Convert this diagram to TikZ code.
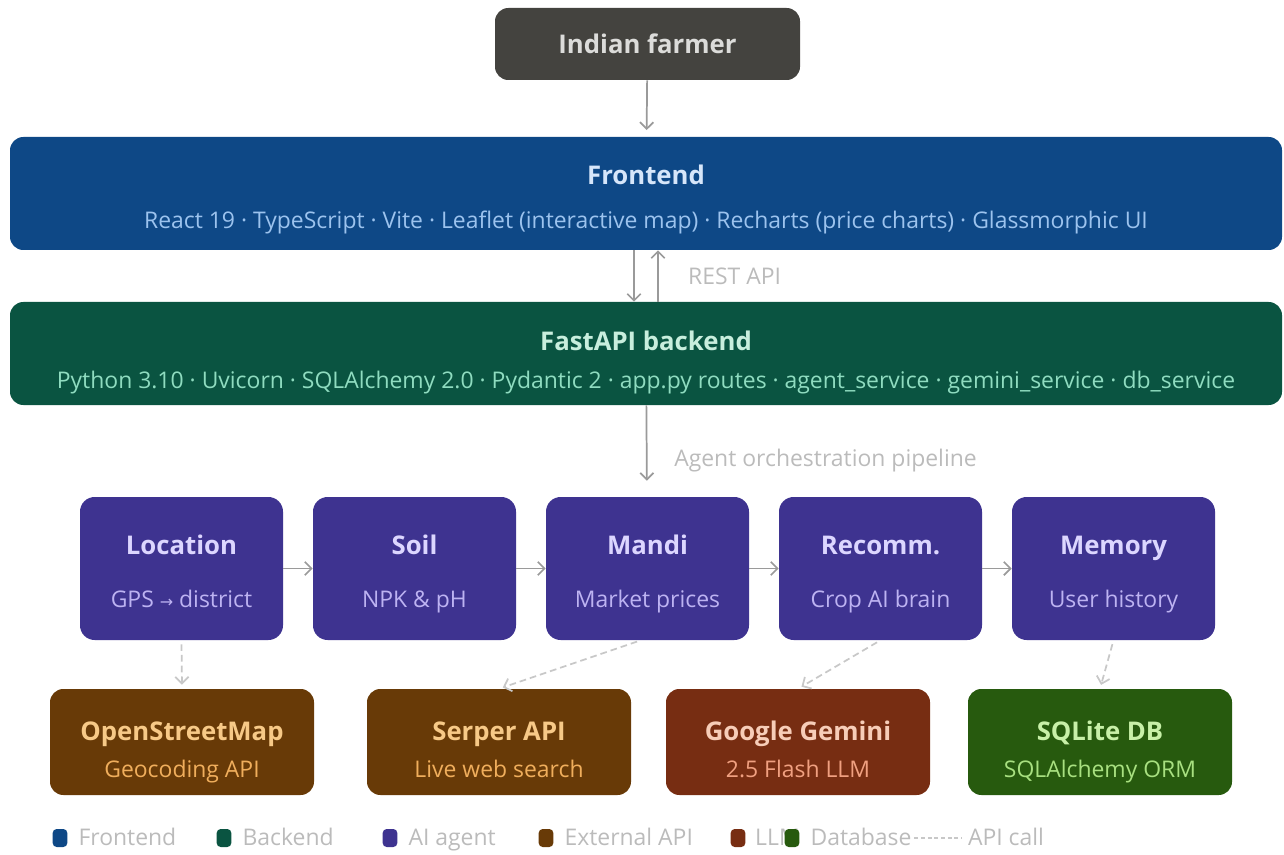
\documentclass[tikz,border=0pt]{standalone}
\usepackage{fontspec}
\setmainfont{Open Sans}
\newfontfamily\arrowfont{DejaVu Sans}
\usepackage{xcolor}
\usetikzlibrary{positioning,arrows.meta}

\definecolor{farmerbg}{HTML}{44433F}
\definecolor{farmertx}{HTML}{DCDCDA}
\definecolor{febg}{HTML}{0E4886}
\definecolor{fettl}{HTML}{D6E6FA}
\definecolor{fesub}{HTML}{9CC3EE}
\definecolor{bebg}{HTML}{0A5441}
\definecolor{bettl}{HTML}{C8EEDD}
\definecolor{besub}{HTML}{8FDCC0}
\definecolor{agentbg}{HTML}{3E3390}
\definecolor{agentttl}{HTML}{DCD6FF}
\definecolor{agentsub}{HTML}{BDB3F2}
\definecolor{extbg}{HTML}{683A07}
\definecolor{extttl}{HTML}{F7C987}
\definecolor{extsub}{HTML}{F0AE5C}
\definecolor{llmbg}{HTML}{772D12}
\definecolor{llmttl}{HTML}{F7CDB8}
\definecolor{llmsub}{HTML}{F0A080}
\definecolor{dbbg}{HTML}{275A0E}
\definecolor{dbttl}{HTML}{C8F0A8}
\definecolor{dbsub}{HTML}{A8E080}
\definecolor{arrowgray}{HTML}{9A9A9A}
\definecolor{callgray}{HTML}{C8C8C8}
\definecolor{lblgray}{HTML}{BBBBBB}

% title line with a strut on top, subtitle line with a strut below
\newcommand{\titleline}[3]{\rule{0pt}{#1}{\color{#2}\fontsize{19.3}{24}\selectfont\bfseries #3}}
\newcommand{\subline}[2]{{\color{#1}#2}\rule[-6pt]{0pt}{6pt}}

\begin{document}
\begin{tikzpicture}[x=0.75pt,y=-0.75pt,
    box/.style={rounded corners=10pt,align=center,inner sep=0pt,
      font=\fontsize{17.2}{24}\selectfont},
    layer/.style={box,minimum width=954pt},
    agent/.style={box,fill=agentbg,minimum width=152.25pt,minimum height=107.25pt,
      rounded corners=11pt},
    ext/.style={box,minimum width=198pt,minimum height=79.5pt},
    flow/.style={draw=arrowgray,line width=1.3pt,-{Straight Barb[length=5pt,width=10pt]}},
    call/.style={flow,draw=callgray,dash pattern=on 5pt off 3pt},
    lbl/.style={text=lblgray,font=\fontsize{17.2}{24}\selectfont,inner sep=0pt},
    legsq/.style={rounded corners=3pt,minimum width=11pt,minimum height=13.5pt,inner sep=0pt},
    legtxt/.style={text=lblgray,font=\fontsize{17.2}{24}\selectfont,inner sep=0pt,
      text height=14pt,text depth=3pt}
  ]
  \useasboundingbox (0,0) rectangle (1284,855);

  % user
  \node [box,fill=farmerbg,minimum width=228.75pt,minimum height=54pt] (farmer) at (647.5,44)
    {\color{farmertx}\fontsize{19.3}{24}\selectfont\bfseries Indian farmer};

  % frontend / backend layers
  \node [layer,fill=febg,minimum height=84.75pt] (fe) at (646,193.5) {%
    \titleline{25pt}{fettl}{Frontend}\\[9pt]
    \subline{fesub}{React 19 · TypeScript · Vite · Leaflet (interactive map) · Recharts (price charts) · Glassmorphic UI}
  };
  \node [layer,fill=bebg,minimum height=77.25pt] (be) at (646,353.5) {%
    \titleline{29.5pt}{bettl}{FastAPI backend}\\[4.5pt]
    \subline{besub}{Python 3.10 · Uvicorn · SQLAlchemy 2.0 · Pydantic 2 · app.py routes · agent\_service · gemini\_service · db\_service}
  };

  % agents
  \node [agent] (loc) at (181.5,568.5) {%
    \titleline{24.35pt}{agentttl}{Location}\\[15.75pt]
    \subline{agentsub}{GPS {\arrowfont\fontsize{12}{24}\selectfont →} district}
  };
  \node [agent] (soil) at (414.5,568.5) {%
    \titleline{24.35pt}{agentttl}{Soil}\\[15.75pt]
    \subline{agentsub}{NPK \& pH}
  };
  \node [agent] (mandi) at (647.5,568.5) {%
    \titleline{24.35pt}{agentttl}{Mandi}\\[15.75pt]
    \subline{agentsub}{Market prices}
  };
  \node [agent] (recomm) at (880.5,568.5) {%
    \titleline{24.35pt}{agentttl}{Recomm.}\\[15.75pt]
    \subline{agentsub}{Crop AI brain}
  };
  \node [agent] (memory) at (1113.5,568.5) {%
    \titleline{24.35pt}{agentttl}{Memory}\\[15.75pt]
    \subline{agentsub}{User history}
  };

  % external services
  \node [ext,fill=extbg] (osm) at (182,742) {%
    \titleline{31.15pt}{extttl}{OpenStreetMap}\\[3.75pt]
    \subline{extsub}{Geocoding API}
  };
  \node [ext,fill=extbg] (serper) at (499,742) {%
    \titleline{31.15pt}{extttl}{Serper API}\\[3.75pt]
    \subline{extsub}{Live web search}
  };
  \node [ext,fill=llmbg] (gemini) at (798,742) {%
    \titleline{31.15pt}{llmttl}{Google Gemini}\\[3.75pt]
    \subline{llmsub}{2.5 Flash LLM}
  };
  \node [ext,fill=dbbg] (sqlite) at (1100,742) {%
    \titleline{31.15pt}{dbttl}{SQLite DB}\\[3.75pt]
    \subline{dbsub}{SQLAlchemy ORM}
  };

  % connectors
  \draw [flow,shorten >=5pt] (farmer) -- (fe);
  \draw [flow] ([xshift=-9pt]fe.south) -- ([xshift=-9pt]be.north);
  \draw [flow] ([xshift=9pt]be.north) -- node [lbl,right=22pt] {REST API} ([xshift=9pt]fe.south);
  \draw [flow,shorten >=12pt] (be) -- node [lbl,pos=0.6,right=20pt] {Agent orchestration pipeline} (mandi);

  \draw [flow] (loc) -- (soil);
  \draw [flow] (soil) -- (mandi);
  \draw [flow] (mandi) -- (recomm);
  \draw [flow] (recomm) -- (memory);

  \draw [call,shorten <=3pt,shorten >=3pt] (loc.south) -- (osm.north);
  \draw [call,shorten <=3pt,shorten >=3pt] ([xshift=-5pt]mandi.south) -- (serper.north);
  \draw [call,shorten <=3pt,shorten >=3pt] (recomm.south) -- (gemini.north);
  \draw [call,shorten <=3pt,shorten >=3pt] (memory.south) -- (sqlite.north);

  % legend
  \node [legsq,fill=febg] (lfe) at (60,838) {};
  \node [legtxt,right=8pt of lfe] (tfe) {Frontend};
  \node [legsq,fill=bebg] (lbe) at (224,838) {};
  \node [legtxt,right=8pt of lbe] (tbe) {Backend};
  \node [legsq,fill=agentbg] (lag) at (390,838) {};
  \node [legtxt,right=8pt of lag] (tag) {AI agent};
  \node [legsq,fill=extbg] (lex) at (546,838) {};
  \node [legtxt,right=8pt of lex] (tex) {External API};
  \node [legsq,fill=llmbg] (lllm) at (738,838) {};
  \node [legtxt,right=7pt of lllm] (tllm) {LLM};
  \node [legsq,fill=dbbg] (ldb) at (792,838) {};
  \node [legtxt,right=8pt of ldb] (tdb) {Database};
  \node [legtxt] (tcall) at (1006,838) {API call};
  \draw [draw=callgray,line width=1.2pt,dash pattern=on 3pt off 2pt,shorten <=2pt,shorten >=4pt] (tdb) -- (tcall);
\end{tikzpicture}
\end{document}
